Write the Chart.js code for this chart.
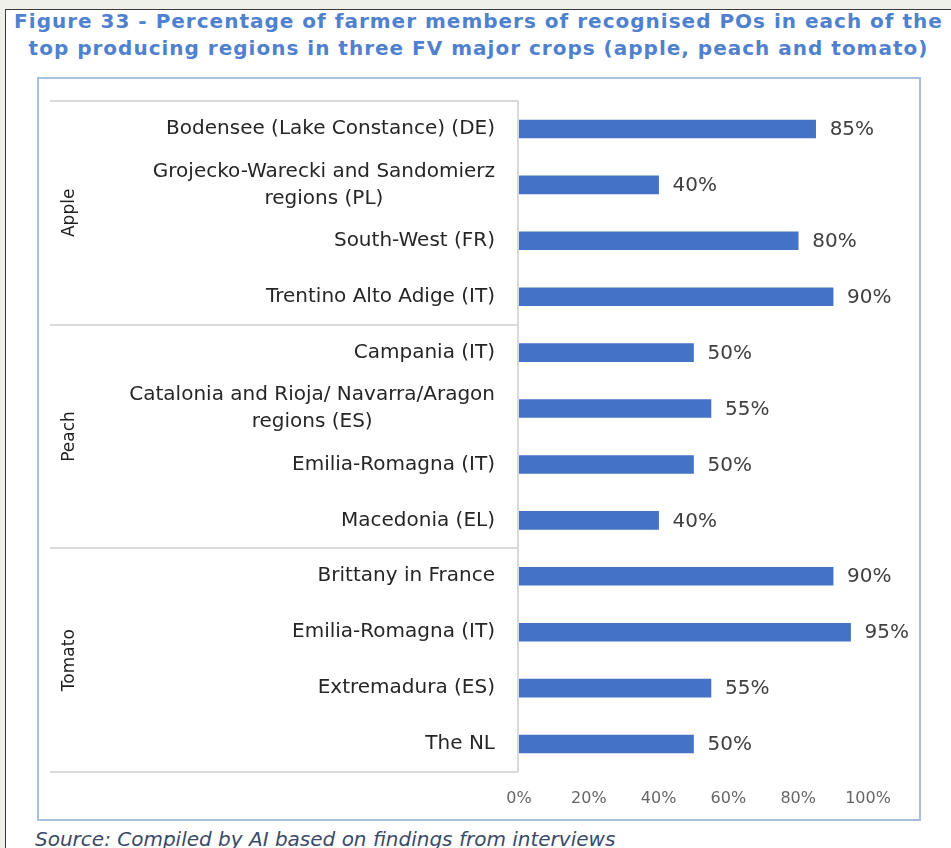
<!DOCTYPE html>
<html>
<head>
<meta charset="utf-8">
<script src="https://cdn.jsdelivr.net/npm/chart.js@4.4.1/dist/chart.umd.min.js"></script>
<style>
  body { margin: 0; width: 951px; height: 848px; overflow: hidden; position: relative;
         background: #f0f0eb; font-family: "DejaVu Sans", sans-serif; }
  #frame { position: absolute; left: 5px; top: 9px; width: 980px; height: 880px;
           background: #fff; border: 1px solid #3a3a3a; }
  #title { position: absolute; left: 0; top: 8px; width: 957px; text-align: center;
           color: #4f81cf; font-weight: bold; font-size: 20px; letter-spacing: 1px;
           line-height: 27px; white-space: nowrap; }
  #box { position: absolute; left: 37px; top: 77px; width: 880px; height: 740px;
         border: 2px solid #a9bfe0; background: #fff; }
  #source { position: absolute; left: 35px; top: 827px; font-style: italic;
            font-size: 20px; line-height: 24px; color: #3b4a68; white-space: nowrap; }
</style>
</head>
<body>
<div id="frame"></div>
<div id="title">Figure 33 - Percentage of farmer members of recognised POs in each of the<br>top producing regions in three FV major crops (apple, peach and tomato)</div>
<div id="box"><canvas id="chart" width="880" height="740"></canvas></div>
<div id="source">Source: Compiled by AI based on findings from interviews</div>

<script>
// regions, top to bottom, grouped by crop
const regions = [
  ['Bodensee (Lake Constance) (DE)'],
  ['Grojecko-Warecki and Sandomierz', 'regions (PL)'],
  ['South-West (FR)'],
  ['Trentino Alto Adige (IT)'],
  ['Campania (IT)'],
  ['Catalonia and Rioja/ Navarra/Aragon', 'regions (ES)'],
  ['Emilia-Romagna (IT)'],
  ['Macedonia (EL)'],
  ['Brittany in France'],
  ['Emilia-Romagna (IT)'],
  ['Extremadura (ES)'],
  ['The NL']
];
const crops = ['Apple', 'Peach', 'Tomato'];
const cropSizes = [4, 4, 4];
// % of farmers who are members of a recognised PO
const shares = [85, 40, 80, 90, 50, 55, 50, 40, 90, 95, 55, 50];
const xTicks = [0, 20, 40, 60, 80, 100];

const LABEL_FONT = '20px "DejaVu Sans"';

// category labels, crop groups, separators and value labels
const groupPlugin = {
  id: 'groups',
  afterDraw(chart) {
    const ctx = chart.ctx;
    const y = chart.scales.y;
    const area = chart.chartArea;
    ctx.save();

    // separators between crop groups
    ctx.strokeStyle = '#d9d9d9';
    ctx.lineWidth = 2;
    let start = 0;
    const bounds = [-0.5];
    cropSizes.forEach(n => { start += n; bounds.push(start - 0.5); });
    bounds.forEach(b => {
      const py = Math.round(y.getPixelForValue(b));
      ctx.beginPath();
      ctx.moveTo(11, py);
      ctx.lineTo(area.left - 1, py);
      ctx.stroke();
    });
    ctx.beginPath();
    ctx.moveTo(area.left - 1, y.getPixelForValue(-0.5));
    ctx.lineTo(area.left - 1, y.getPixelForValue(regions.length - 0.5));
    ctx.stroke();

    // crop names, rotated
    ctx.fillStyle = '#1f1f1f';
    ctx.font = '17px "DejaVu Sans"';
    ctx.textAlign = 'center';
    ctx.textBaseline = 'middle';
    start = 0;
    crops.forEach((c, k) => {
      const mid = (y.getPixelForValue(start - 0.5) + y.getPixelForValue(start + cropSizes[k] - 0.5)) / 2;
      ctx.save();
      ctx.translate(31, mid);
      ctx.rotate(-Math.PI / 2);
      ctx.fillText(c, 0, 0);
      ctx.restore();
      start += cropSizes[k];
    });

    // region labels: block right-aligned, lines centred inside the block
    ctx.fillStyle = '#262626';
    ctx.font = LABEL_FONT;
    const right = area.left - 24;
    regions.forEach((lines, i) => {
      const cy = y.getPixelForValue(i);
      const w = Math.max(...lines.map(l => ctx.measureText(l).width));
      const cx = right - w / 2;
      lines.forEach((l, j) => {
        ctx.fillText(l, cx, cy + (j - (lines.length - 1) / 2) * 27);
      });
    });

    // value labels
    ctx.fillStyle = '#404040';
    ctx.textAlign = 'left';
    chart.getDatasetMeta(0).data.forEach((bar, i) => {
      ctx.fillText(shares[i] + '%', bar.x + 14, bar.y + 1);
    });
    ctx.restore();
  }
};

new Chart(document.getElementById('chart'), {
  type: 'bar',
  data: {
    labels: regions,
    datasets: [{ data: shares, backgroundColor: '#4472c4', barThickness: 18 }]
  },
  options: {
    indexAxis: 'y',
    responsive: false,
    animation: false,
    devicePixelRatio: 1,
    layout: { padding: { top: 22, right: 51, bottom: 0, left: 0 } },
    plugins: { legend: { display: false }, tooltip: { enabled: false } },
    scales: {
      y: {
        offset: true,
        grid: { display: false },
        border: { display: false },
        ticks: { display: false },
        afterFit: s => { s.width = 480; }
      },
      x: {
        min: 0, max: 100,
        afterBuildTicks: s => { s.ticks = xTicks.map(v => ({ value: v })); },
        grid: { display: false, drawTicks: false },
        border: { display: false },
        ticks: { padding: 17, color: '#666666', font: { family: 'DejaVu Sans', size: 16 },
                 callback: v => v + '%' },
        afterFit: s => { s.height = 47; }
      }
    }
  },
  plugins: [groupPlugin]
});
</script>
</body>
</html>
